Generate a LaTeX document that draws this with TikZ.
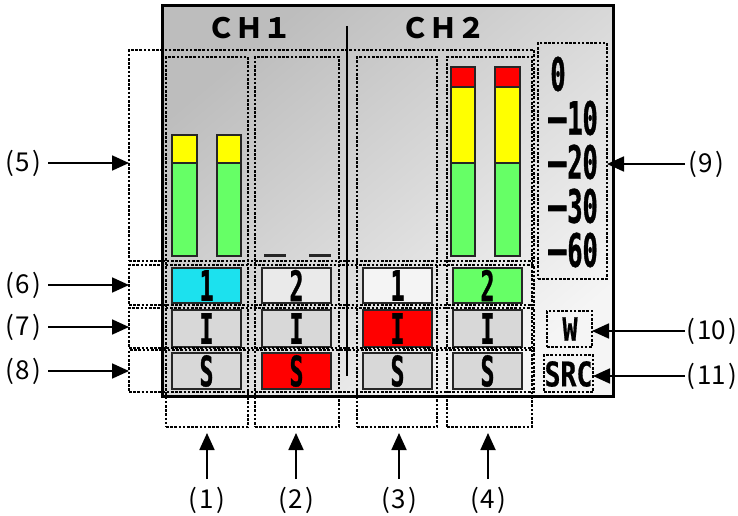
\documentclass[tikz,border=0pt]{standalone}
\usepackage{fontspec}
\usetikzlibrary{arrows.meta}
\newfontfamily\jpfont{Noto Sans CJK JP}
\newfontfamily\segfont[FakeStretch=0.55,FakeBold=0.8]{DejaVu Sans Mono Bold}
\newfontfamily\widefont[FakeStretch=0.78,FakeBold=0.6]{DejaVu Sans Mono Bold}
\newfontfamily\dashfont[FakeStretch=0.72,FakeBold=1.4]{DejaVu Sans Mono Bold}
\definecolor{mgreen}{HTML}{66FF66}
\definecolor{myellow}{HTML}{FFFF00}
\definecolor{mred}{HTML}{FF0000}
\definecolor{bcyan}{HTML}{1CE1EE}
\definecolor{bgray}{HTML}{D8D8D8}
\definecolor{blight}{HTML}{EAEAEA}
\definecolor{bwhite}{HTML}{F4F4F4}
\newcommand{\mn}{{\dashfont −}}
\newcommand{\plbl}[1]{(\kern2pt#1\kern2pt)}
\tikzset{
  panel/.style={draw=black, line width=3pt, shading=axis,
    top color=black!26, bottom color=black!4, shading angle=40,
    inner sep=0pt, outer sep=0pt},
  dotbox/.style={draw=black, line width=1.2pt, dash pattern=on 2.6pt off 1.6pt,
    inner sep=0pt, outer sep=0pt},
  seg/.style={draw=black!85, line width=1.4pt},
  btn/.style={draw=black!85, line width=1.6pt, minimum width=69pt,
    inner sep=0pt, outer sep=0pt, font=\segfont\fontsize{42pt}{42pt}\selectfont},
  numlbl/.style={font=\jpfont\fontsize{26pt}{26pt}\selectfont, inner sep=0pt},
  chlbl/.style={font=\jpfont\bfseries\fontsize{28pt}{28pt}\selectfont, inner sep=0pt},
  scl/.style={font=\segfont\fontsize{46pt}{46pt}\selectfont, inner sep=0pt},
  arr/.style={line width=1.8pt, -{Triangle[length=17pt,width=15pt]}},
}
\begin{document}
\begin{tikzpicture}[x=1pt,y=-1pt]
\useasboundingbox (0,0) rectangle (738,516);

% display panel
\node[panel, minimum width=451pt, minimum height=390pt] (panel) at (387.5,201) {};

% channel headings and divider
\node[chlbl] (ch1) at (249,28) {ＣＨ１};
\node[chlbl] (ch2) at (443,28) {ＣＨ２};
\coordinate (divtop) at (347,26);
\coordinate (divbot) at (347,376);
\draw[line width=2pt] (divtop) -- (divbot);

% level meters, channel 1 / input 1
\foreach \xa/\xb in {172/197, 217/241} {
  \fill[myellow] (\xa,135) rectangle (\xb,163);
  \fill[mgreen] (\xa,163) rectangle (\xb,256);
  \draw[seg] (\xa,135) rectangle (\xb,256);
  \draw[seg] (\xa,163) -- (\xb,163);
}
% channel 1 / input 2: empty meters
\foreach \xa/\xb in {264/286, 309/331}
  \draw[line width=3pt, black!85] (\xa,255) -- (\xb,255);
% channel 2 / input 2
\foreach \xa/\xb in {451/475, 495/520} {
  \fill[mred] (\xa,67) rectangle (\xb,87);
  \fill[myellow] (\xa,87) rectangle (\xb,163);
  \fill[mgreen] (\xa,163) rectangle (\xb,256);
  \draw[seg] (\xa,67) rectangle (\xb,256);
  \draw[seg] (\xa,87) -- (\xb,87);
  \draw[seg] (\xa,163) -- (\xb,163);
}

% buttons: input number, I, S
\node[btn, fill=bcyan,  minimum height=35pt] (b11) at (206.5,285.5) {1};
\node[btn, fill=blight, minimum height=35pt] (b12) at (296.5,285.5) {2};
\node[btn, fill=bwhite, minimum height=35pt] (b13) at (397.5,285.5) {1};
\node[btn, fill=mgreen, minimum height=35pt] (b14) at (487.5,285.5) {2};
\node[btn, fill=bgray,  minimum height=37pt] (b21) at (206.5,328.5) {I};
\node[btn, fill=bgray,  minimum height=37pt] (b22) at (296.5,328.5) {I};
\node[btn, fill=mred,   minimum height=37pt] (b23) at (397.5,328.5) {I};
\node[btn, fill=bgray,  minimum height=37pt] (b24) at (487.5,328.5) {I};
\node[btn, fill=bgray,  minimum height=36pt] (b31) at (206.5,371) {S};
\node[btn, fill=mred,   minimum height=36pt] (b32) at (296.5,371) {S};
\node[btn, fill=bgray,  minimum height=36pt] (b33) at (397.5,371) {S};
\node[btn, fill=bgray,  minimum height=36pt] (b34) at (487.5,371) {S};

% meter scale
\node[scl] (s0) at (558,74) {0};
\node[scl, anchor=east] (s10) at (598,118) {\mn10};
\node[scl, anchor=east] (s20) at (598,162) {\mn20};
\node[scl, anchor=east] (s30) at (598,206) {\mn30};
\node[scl, anchor=east] (s60) at (598,250) {\mn60};

% W and SRC indicators
\node[font=\widefont\fontsize{32pt}{32pt}\selectfont, inner sep=0pt] (wtxt) at (570,329) {W};
\node[font=\widefont\fontsize{34pt}{34pt}\selectfont, inner sep=0pt] (srctxt) at (568.5,374) {SRC};

% dotted call-out regions: columns
\node[dotbox, minimum width=82pt, minimum height=370pt] (col1) at (207,242) {};
\node[dotbox, minimum width=84pt, minimum height=370pt] (col2) at (297,242) {};
\node[dotbox, minimum width=80pt, minimum height=370pt] (col3) at (397,242) {};
\node[dotbox, minimum width=85pt, minimum height=370pt] (col4) at (489.5,242) {};
% rows
\node[dotbox, minimum width=405pt, minimum height=211pt] (row5) at (331.5,155.5) {};
\node[dotbox, minimum width=405pt, minimum height=40pt] (row6) at (331.5,285) {};
\node[dotbox, minimum width=405pt, minimum height=40pt] (row7) at (331.5,328) {};
\node[dotbox, minimum width=405pt, minimum height=42pt] (row8) at (331.5,371) {};
% scale, W, SRC
\node[dotbox, minimum width=69pt, minimum height=236pt] (scale) at (572.5,161) {};
\node[dotbox, minimum width=45pt, minimum height=36pt] (wbox) at (569.5,329) {};
\node[dotbox, minimum width=49pt, minimum height=37pt] (srcbox) at (568.5,373.5) {};

% call-out labels and arrows
\node[numlbl, anchor=west] (l5) at (5,163) {\plbl{5}};
\node[numlbl, anchor=west] (l6) at (5,285) {\plbl{6}};
\node[numlbl, anchor=west] (l7) at (5,327) {\plbl{7}};
\node[numlbl, anchor=west] (l8) at (5,371) {\plbl{8}};
\foreach \n/\r in {5/row5, 6/row6, 7/row7, 8/row8}
  \draw[arr] (48,0 |- l\n) -- (l\n -| \r.west);

\node[numlbl, anchor=west] (l9) at (688,164) {\plbl{9}};
\node[numlbl, anchor=east] (l10) at (737,331) {\plbl{10}};
\node[numlbl, anchor=east] (l11) at (737,376) {\plbl{11}};
\draw[arr] (685,0 |- l9) -- (l9 -| scale.east);
\draw[arr] (685,0 |- l10) -- (l10 -| wbox.east);
\draw[arr] (685,0 |- l11) -- (l11 -| srcbox.east);

\node[numlbl] (l1) at (207,500) {\plbl{1}};
\node[numlbl] (l2) at (296,500) {\plbl{2}};
\node[numlbl] (l3) at (399,500) {\plbl{3}};
\node[numlbl] (l4) at (488,500) {\plbl{4}};
\foreach \n in {1,2,3,4}
  \draw[arr, shorten >=6pt] (l\n |- 0,479) -- (l\n |- col\n.south);
\end{tikzpicture}
\end{document}
